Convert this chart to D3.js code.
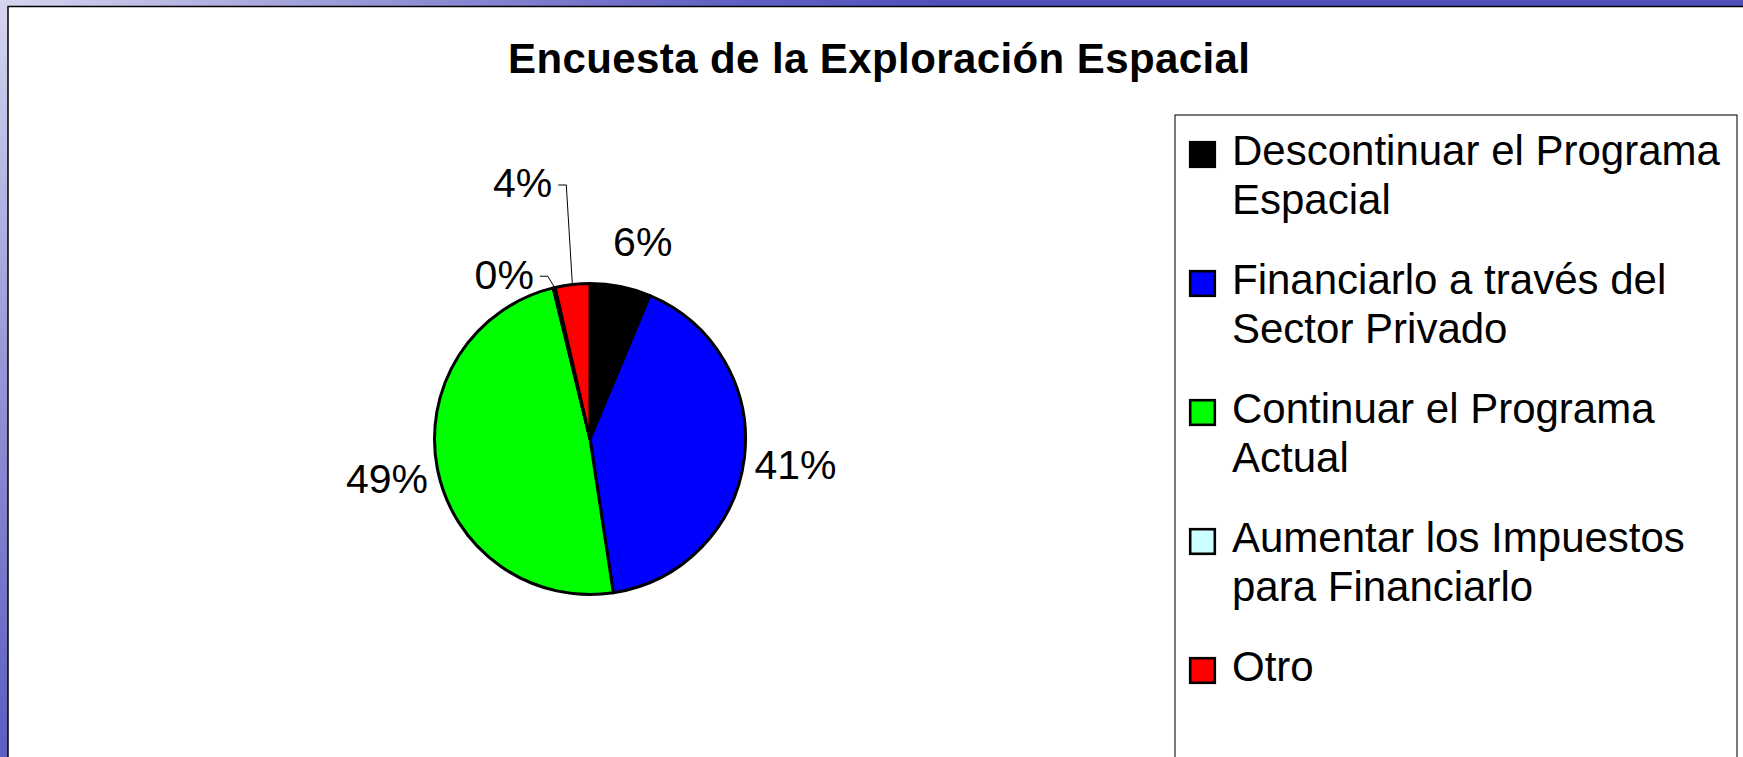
<!DOCTYPE html>
<html>
<head>
<meta charset="utf-8">
<script src="https://cdn.jsdelivr.net/npm/d3@7"></script>
<style>
  html, body { margin: 0; padding: 0; overflow: hidden; }
  text { font-family: "Liberation Sans", Arial, sans-serif; }
</style>
</head>
<body>
<div id="chart"></div>
<script>
const categories = [
    "Descontinuar el Programa Espacial",
    "Financiarlo a través del Sector Privado",
    "Continuar el Programa Actual",
    "Aumentar los Impuestos para Financiarlo",
    "Otro"
]
// how the legend wraps each category
const legendLines = [
    ["Descontinuar el Programa", "Espacial"],
    ["Financiarlo a través del", "Sector Privado"],
    ["Continuar el Programa", "Actual"],
    ["Aumentar los Impuestos", "para Financiarlo"],
    ["Otro"]
]
const values = [6.3, 41.3, 48.6, 0.2, 3.6]
const colors = ["#000000", "#0000ff", "#00ff00", "#ccffff", "#ff0000"]
const title = "Encuesta de la Exploración Espacial"

const width = 1743, height = 757
const cx = 590, cy = 439, radius = 155.5

let svg = d3.select("#chart")
    .append("svg")
    .attr("width", width)
    .attr("height", height)

// slide background
let defs = svg.append("defs")
let grad = defs.append("radialGradient")
    .attr("id", "bg")
    .attr("gradientUnits", "userSpaceOnUse")
    .attr("cx", 0).attr("cy", 0).attr("r", 950)
grad.append("stop").attr("offset", 0).attr("stop-color", "#d6d6f0")
grad.append("stop").attr("offset", 0.4).attr("stop-color", "#9494d6")
grad.append("stop").attr("offset", 0.75).attr("stop-color", "#6262c4")
grad.append("stop").attr("offset", 1).attr("stop-color", "#5050bc")
svg.append("rect")
    .attr("width", width).attr("height", height)
    .attr("fill", "url(#bg)")

// chart area
svg.append("rect")
    .attr("x", 8).attr("y", 6.5)
    .attr("width", width + 20).attr("height", height + 20)
    .attr("fill", "white")
    .attr("stroke", "black")
    .attr("stroke-width", 1.5)

svg.append("text")
    .attr("x", 879).attr("y", 73)
    .attr("text-anchor", "middle")
    .attr("textLength", 742)
    .attr("lengthAdjust", "spacing")
    .style("font-weight", "bold")
    .style("font-size", "42px")
    .text(title)

let color = d3.scaleOrdinal().domain(categories).range(colors)
let pie = d3.pie().sort(null).value(d => d.value)
let data_ready = pie(categories.map((c, i) => ({ key: c, value: values[i] })))

let arcGenerator = d3.arc().innerRadius(0).outerRadius(radius)
let labelArc = d3.arc().innerRadius(207).outerRadius(207)
let edgeArc = d3.arc().innerRadius(radius + 1.5).outerRadius(radius + 1.5)
let fmt = d3.format(".0%")

let g = svg.append("g").attr("transform", `translate(${cx}, ${cy})`)

g.selectAll("path.slice")
    .data(data_ready)
    .enter()
    .append("path")
    .attr("class", "slice")
    .attr("d", arcGenerator)
    .attr("fill", d => color(d.data.key))
    .attr("stroke", "black")
    .attr("stroke-width", 3)
    .attr("stroke-linejoin", "round")

// big slices: label just outside the slice
let big = data_ready.filter(d => d.data.value >= 5)
g.selectAll("text.big")
    .data(big)
    .enter()
    .append("text")
    .attr("class", "big")
    .attr("transform", d => {
        let c = labelArc.centroid(d)
        // narrow slices get pushed a bit further along the rim
        let nudge = (d.endAngle - d.startAngle) < 0.5 ? [12, 6] : [0, 0]
        return "translate(" + (c[0] + nudge[0]) + "," + (c[1] + nudge[1]) + ")"
    })
    .attr("dy", "0.35em")
    .attr("text-anchor", "middle")
    .style("font-size", "41px")
    .text(d => fmt(d.data.value / 100))

// small slices: stacked labels with leader lines
let small = data_ready.filter(d => d.data.value < 5)
const labelStep = 88
small.forEach((d, k) => {
    let edge = edgeArc.centroid(d)
    let elbow = [edge[0] - 6, edge[1] - 10 - k * labelStep]
    let end = [elbow[0] - 8, elbow[1]]
    g.append("polyline")
        .attr("points", [end, elbow, edge].map(p => p.join(",")).join(" "))
        .attr("fill", "none")
        .attr("stroke", "black")
        .attr("stroke-width", 1)
    g.append("text")
        .attr("x", end[0] - 6)
        .attr("y", end[1] - 2)
        .attr("dy", "0.35em")
        .attr("text-anchor", "end")
        .style("font-size", "41px")
        .text(fmt(d.data.value / 100))
})

// legend
const legendX = 1175, legendY = 115
svg.append("rect")
    .attr("x", legendX).attr("y", legendY)
    .attr("width", 1737 - legendX).attr("height", height)
    .attr("fill", "white")
    .attr("stroke", "#222")
    .attr("stroke-width", 1.2)

const itemStep = 129, lineStep = 49
let items = svg.selectAll("g.item")
    .data(categories)
    .enter()
    .append("g")
    .attr("class", "item")
    .attr("transform", (d, i) => `translate(${legendX}, ${legendY + 50 + i * itemStep})`)

items.append("rect")
    .attr("x", 15.2).attr("y", -22.8)
    .attr("width", 24.6).attr("height", 24.6)
    .attr("fill", d => color(d))
    .attr("stroke", "black")
    .attr("stroke-width", 2.6)

items.append("text")
    .attr("x", 57)
    .style("font-size", "42px")
    .selectAll("tspan")
    .data((d, i) => legendLines[i])
    .enter()
    .append("tspan")
    .attr("x", 57)
    .attr("y", (d, j) => j * lineStep)
    .text(d => d)
</script>
</body>
</html>
